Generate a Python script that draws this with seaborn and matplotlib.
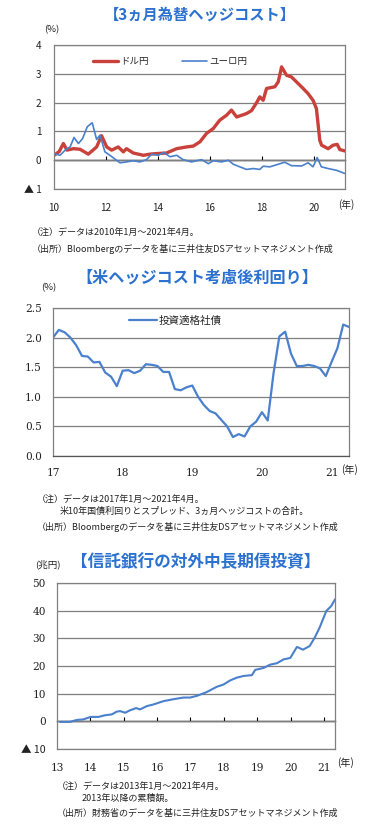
import numpy as np
import pandas as pd
import seaborn as sns
import matplotlib.pyplot as plt

sns.set_theme(style='white')
plt.rcParams['font.family'] = ['Noto Sans CJK JP', 'DejaVu Sans']

W, H = 366, 826

# chart 1: 3-month FX hedge cost (%)
usd_year = [2010.0, 2010.2, 2010.36, 2010.5, 2010.75, 2011.0, 2011.32, 2011.64, 2011.83, 2012.03,
            2012.22, 2012.47, 2012.67, 2012.79, 2013.05, 2013.44, 2013.69, 2013.95, 2014.33, 2014.72,
            2015.1, 2015.36, 2015.62, 2015.87, 2016.13, 2016.38, 2016.64, 2016.83, 2017.03, 2017.22,
            2017.41, 2017.6, 2017.8, 2017.92, 2018.05, 2018.18, 2018.5, 2018.63, 2018.76, 2018.95,
            2019.14, 2019.4, 2019.59, 2019.78, 2019.97, 2020.1, 2020.23, 2020.3, 2020.55, 2020.74,
            2020.9, 2021.0, 2021.2]
usd_cost = [0.17, 0.3, 0.58, 0.35, 0.40, 0.38, 0.21, 0.46, 0.85, 0.46,
            0.35, 0.46, 0.29, 0.40, 0.25, 0.17, 0.21, 0.23, 0.25, 0.40,
            0.46, 0.49, 0.64, 0.93, 1.10, 1.39, 1.56, 1.74, 1.50, 1.56,
            1.62, 1.72, 2.0, 2.2, 2.08, 2.49, 2.55, 2.72, 3.24, 2.95,
            2.89, 2.66, 2.49, 2.31, 2.08, 1.79, 0.69, 0.52, 0.40, 0.52,
            0.55, 0.37, 0.32]
eur_year = [2010.0, 2010.23, 2010.49, 2010.62, 2010.77, 2010.94, 2011.1, 2011.28, 2011.47, 2011.64,
            2011.77, 2011.96, 2012.15, 2012.54, 2012.79, 2013.05, 2013.31, 2013.56, 2013.76, 2014.01,
            2014.23, 2014.46, 2014.72, 2014.97, 2015.29, 2015.68, 2015.94, 2016.13, 2016.45, 2016.71,
            2016.9, 2017.15, 2017.41, 2017.67, 2017.92, 2018.05, 2018.31, 2018.63, 2018.88, 2019.14,
            2019.53, 2019.78, 2019.97, 2020.13, 2020.29, 2020.55, 2020.87, 2021.19]
eur_cost = [0.23, 0.17, 0.40, 0.46, 0.79, 0.58, 0.75, 1.16, 1.30, 0.72,
            0.87, 0.29, 0.17, -0.09, -0.06, -0.02, -0.06, 0.02, 0.21, 0.17,
            0.27, 0.12, 0.17, 0.02, -0.06, 0.02, -0.12, -0.02, -0.06, 0.0,
            -0.14, -0.23, -0.32, -0.29, -0.32, -0.21, -0.23, -0.14, -0.07, -0.19,
            -0.20, -0.09, -0.23, 0.09, -0.23, -0.29, -0.35, -0.46]

# chart 2: US IG corporate yield after hedge cost (%), monthly 2017/1 - 2021/4
ig_yield = [2.0, 2.13, 2.09, 2.0, 1.87, 1.69, 1.68, 1.58, 1.59, 1.41, 1.34, 1.18,
            1.44, 1.45, 1.40, 1.44, 1.55, 1.54, 1.52, 1.42, 1.42, 1.13, 1.11, 1.16,
            1.19, 1.0, 0.86, 0.76, 0.72, 0.61, 0.50, 0.32, 0.37, 0.33, 0.5, 0.58,
            0.74, 0.60, 1.40, 2.02, 2.10, 1.73, 1.52, 1.52, 1.54, 1.52, 1.48, 1.35,
            1.59, 1.82, 2.22, 2.18]

# chart 3: trust banks' foreign mid/long bond investment (trillion yen, cumulative)
tb_year = [2013.09, 2013.39, 2013.59, 2013.79, 2014.01, 2014.24, 2014.44, 2014.64, 2014.79, 2014.89,
           2015.04, 2015.19, 2015.37, 2015.49, 2015.69, 2015.89, 2016.19, 2016.49, 2016.79, 2016.99,
           2017.19, 2017.49, 2017.79, 2017.99, 2018.19, 2018.39, 2018.59, 2018.84, 2018.94, 2019.19,
           2019.39, 2019.59, 2019.79, 2019.99, 2020.19, 2020.37, 2020.57, 2020.72, 2020.87, 2021.07,
           2021.22, 2021.33]
tb_amount = [-0.2, -0.2, 0.5, 0.7, 1.6, 1.6, 2.2, 2.5, 3.5, 3.7,
             3.1, 4.0, 4.8, 4.3, 5.5, 6.1, 7.3, 8.0, 8.6, 8.6,
             9.2, 10.6, 12.5, 13.3, 14.8, 15.8, 16.4, 16.7, 18.6, 19.3,
             20.5, 21.0, 22.4, 22.9, 26.9, 25.9, 27.2, 30.2, 33.9, 39.9,
             41.7, 44.1]

title_blue = '#2B72D0'
line_blue = '#4A80CC'
usd_red = '#C8413B'
grid_gray = '#7f7f7f'
serif = ['DejaVu Serif']


def fx(x):
    return x / W


def fy(y):
    return 1 - y / H


def make_axes(fig, left, top, right, bottom):
    ax = fig.add_axes([fx(left), fy(bottom), (right - left) / W, (bottom - top) / H])
    for s in ax.spines.values():
        s.set_color('#808080')
        s.set_linewidth(0.9)
    ax.set_xlabel('')
    ax.set_ylabel('')
    return ax


def note(fig, x, y, s, size=6.5, **kw):
    fig.text(fx(x), fy(y), s, fontsize=size, va='center', ha='left', color='#222222', **kw)


fig = plt.figure(figsize=(W / 100, H / 100), dpi=100)
fig.patch.set_facecolor('white')

######################################################################## CHART 1
fig.text(fx(200), fy(15), '【3ヵ月為替ヘッジコスト】', fontsize=11, fontweight='bold',
         color=title_blue, ha='center', va='center')
ax1 = make_axes(fig, 54, 45, 345, 189)
sns.lineplot(x=usd_year, y=usd_cost, ax=ax1, color=usd_red, linewidth=2.4, label='ドル円')
sns.lineplot(x=eur_year, y=eur_cost, ax=ax1, color=line_blue, linewidth=1.2, label='ユーロ円')
ax1.set_xlim(2010, 2021.2)
ax1.set_ylim(-1, 4)
ax1.set_yticks([-1, 0, 1, 2, 3, 4])
ax1.set_yticklabels(['▲ 1', '0', '1', '2', '3', '4'])
ax1.set_xticks([2010, 2012, 2014, 2016, 2018, 2020])
ax1.set_xticklabels(['10', '12', '14', '16', '18', '20'])
ax1.tick_params(axis='both', length=0, labelsize=7.2, colors='#222222')
ax1.tick_params(axis='x', pad=10)
ax1.tick_params(axis='y', pad=9)
ax1.yaxis.grid(True, color=grid_gray, linewidth=0.9)
ax1.set_axisbelow(True)
zero1 = ax1.secondary_xaxis(1 / 5)
zero1.set_xticks([2012, 2014, 2016, 2018, 2020])
zero1.tick_params(direction='in', length=3, width=0.8, labelbottom=False, labeltop=False, color='black')
for s in zero1.spines.values():
    s.set_color('black')
    s.set_linewidth(1.0)
ax1.legend(loc='center left', bbox_to_anchor=(0.134, 0.882), ncol=2, frameon=False,
           fontsize=6.8, handlelength=2.6, handletextpad=0.25, columnspacing=3.6,
           borderpad=0, borderaxespad=0)
fig.text(fx(52), fy(30), '(%)', fontsize=6.8, ha='center', va='center', color='#222222')
fig.text(fx(346), fy(205), '(年)', fontsize=7, ha='center', va='center', color='#222222')
note(fig, 32, 233, '（注）データは2010年1月～2021年4月。')
note(fig, 32, 249, '（出所）Bloombergのデータを基に三井住友DSアセットマネジメント作成')

######################################################################## CHART 2
fig.text(fx(197), fy(278), '【米ヘッジコスト考慮後利回り】', fontsize=11.6, fontweight='bold',
         color=title_blue, ha='center', va='center')
ax2 = make_axes(fig, 53, 308, 349, 456)
ig_x = 2017 + np.arange(len(ig_yield)) / 12
sns.lineplot(x=ig_x, y=ig_yield, ax=ax2, color=line_blue, linewidth=1.6, label='投資適格社債')
ax2.set_xlim(2017, 2021.25)
ax2.set_ylim(0, 2.5)
ax2.set_yticks([0, 0.5, 1.0, 1.5, 2.0, 2.5])
ax2.set_yticklabels(['0.0', '0.5', '1.0', '1.5', '2.0', '2.5'], family=serif)
ax2.set_xticks([2017, 2018, 2019, 2020, 2021])
ax2.set_xticklabels(['17', '18', '19', '20', '21'], family=serif)
ax2.tick_params(axis='y', length=0, labelsize=7.6, colors='#222222', pad=8)
ax2.tick_params(axis='x', direction='in', length=3, width=0.8, color='#555555',
                labelsize=7.6, labelcolor='#222222', pad=9)
ax2.spines['bottom'].set_color('#555555')
ax2.yaxis.grid(True, color=grid_gray, linewidth=0.9)
ax2.set_axisbelow(True)
ax2.legend(loc='center left', bbox_to_anchor=(0.257, 0.912), frameon=False,
           fontsize=7.6, handlelength=2.6, handletextpad=0.2, borderpad=0, borderaxespad=0)
fig.text(fx(49), fy(288), '(%)', fontsize=6.8, ha='center', va='center', color='#222222')
fig.text(fx(350), fy(470), '(年)', fontsize=7.2, ha='center', va='center', color='#222222')
note(fig, 37, 500, '（注）データは2017年1月～2021年4月。')
note(fig, 60, 511, '米10年国債利回りとスプレッド、3ヵ月ヘッジコストの合計。')
note(fig, 37, 527, '（出所）Bloombergのデータを基に三井住友DSアセットマネジメント作成')

######################################################################## CHART 3
fig.text(fx(196), fy(562), '【信託銀行の対外中長期債投資】', fontsize=12, fontweight='bold',
         color=title_blue, ha='center', va='center')
ax3 = make_axes(fig, 57, 583, 335, 749)
sns.lineplot(x=tb_year, y=tb_amount, ax=ax3, color=line_blue, linewidth=1.5)
ax3.set_xlim(2013, 2021.33)
ax3.set_ylim(-10, 50)
ax3.set_yticks([-10, 0, 10, 20, 30, 40, 50])
ax3.set_yticklabels(['▲ 10', '0', '10', '20', '30', '40', '50'])
for lab in ax3.get_yticklabels()[1:]:
    lab.set_family(serif)
ax3.set_xticks(list(range(2013, 2022)))
ax3.set_xticklabels([str(y - 2000) for y in range(2013, 2022)], family=serif)
ax3.tick_params(axis='both', length=0, labelsize=7.6, colors='#222222')
ax3.tick_params(axis='x', pad=10)
ax3.tick_params(axis='y', pad=8)
ax3.yaxis.grid(True, color=grid_gray, linewidth=0.9)
ax3.set_axisbelow(True)
zero3 = ax3.secondary_xaxis(1 / 6)
zero3.set_xticks(list(range(2014, 2022)))
zero3.tick_params(direction='in', length=3, width=0.8, labelbottom=False, labeltop=False, color='black')
for s in zero3.spines.values():
    s.set_color('black')
    s.set_linewidth(1.0)
fig.text(fx(48), fy(564), '(兆円)', fontsize=6.8, ha='center', va='center', color='#222222')
fig.text(fx(345), fy(763), '(年)', fontsize=7.2, ha='center', va='center', color='#222222')
note(fig, 57, 787, '（注）データは2013年1月～2021年4月。')
note(fig, 82, 798, '2013年以降の累積額。')
note(fig, 57, 813, '（出所）財務省のデータを基に三井住友DSアセットマネジメント作成')

fig.savefig('out.png', dpi=100, facecolor='white')
